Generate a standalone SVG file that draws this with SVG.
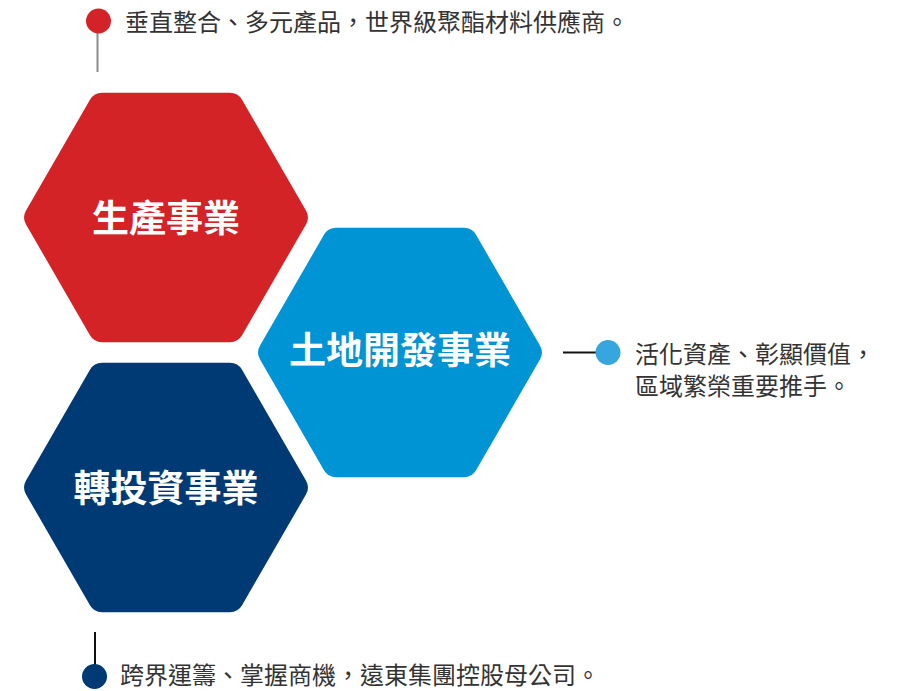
<svg xmlns="http://www.w3.org/2000/svg" xmlns:xlink="http://www.w3.org/1999/xlink" width="899" height="691" viewBox="0 0 899 691">
  <style>
    .title { font-family: "Noto Sans CJK TC", "Noto Sans CJK SC", sans-serif; font-size: 37px; font-weight: bold; fill: #ffffff; text-anchor: middle; }
    .note { font-family: "Noto Sans CJK TC", "Noto Sans CJK SC", sans-serif; font-size: 24px; fill: #333333; }
    .conn { fill: none; stroke-width: 2; }
  </style>
  <defs>
    <path id="hex" d="M139.96,-7 A14,14 0 0 1 139.96,7 L76.04,117.7 A14,14 0 0 1 63.92,124.7 L-63.92,124.7 A14,14 0 0 1 -76.04,117.7 L-139.96,7 A14,14 0 0 1 -139.96,-7 L-76.04,-117.7 A14,14 0 0 1 -63.92,-124.7 L63.92,-124.7 A14,14 0 0 1 76.04,-117.7 Z"/>
  </defs>
  <rect width="899" height="691" fill="#ffffff"/>

  <g id="connectors">
    <line class="conn" x1="97.5" y1="30" x2="97.5" y2="72" stroke="#8a8a8a"/>
    <line class="conn" x1="563" y1="352.5" x2="600" y2="352.5" stroke="#111111"/>
    <line class="conn" x1="95" y1="632" x2="95" y2="668" stroke="#111111"/>
  </g>

  <g id="node-production">
    <use xlink:href="#hex" href="#hex" transform="translate(166,217.5)" fill="#d32327"/>
    <text class="title" x="166" y="232">生產事業</text>
  </g>

  <g id="node-land">
    <use xlink:href="#hex" href="#hex" transform="translate(400,352.5)" fill="#0094d5"/>
    <text class="title" x="400" y="364">土地開發事業</text>
  </g>

  <g id="node-investment">
    <use xlink:href="#hex" href="#hex" transform="translate(166,487.5)" fill="#003a75"/>
    <text class="title" x="166" y="502">轉投資事業</text>
  </g>

  <g id="note-production">
    <circle cx="98.5" cy="21" r="12.5" fill="#d42328"/>
    <text class="note" x="125" y="31">垂直整合、多元產品，世界級聚酯材料供應商。</text>
  </g>

  <g id="note-land">
    <circle cx="608" cy="352.5" r="12.5" fill="#38a6de"/>
    <text class="note" x="635" y="363">活化資產、彰顯價值，</text>
    <text class="note" x="635" y="395">區域繁榮重要推手。</text>
  </g>

  <g id="note-investment">
    <circle cx="94.5" cy="676.5" r="12.5" fill="#003a75"/>
    <text class="note" x="120" y="684">跨界運籌、掌握商機，遠東集團控股母公司。</text>
  </g>
</svg>
